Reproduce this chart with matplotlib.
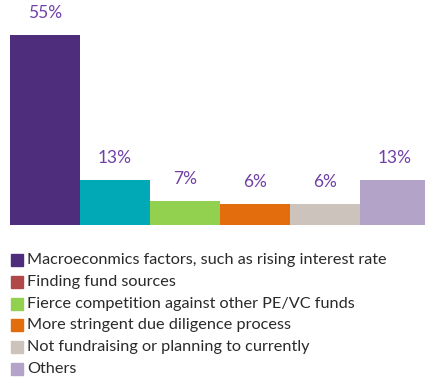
import matplotlib.pyplot as plt
from matplotlib.patches import Rectangle

categories = [
    "Macroeconmics factors, such as rising interest rate",
    "Finding fund sources",
    "Fierce competition against other PE/VC funds",
    "More stringent due diligence process",
    "Not fundraising or planning to currently",
    "Others",
]
values = [55, 13, 7, 6, 6, 13]
bar_colors = ["#4e2e7c", "#00a9b5", "#92d150", "#e36d0c", "#ccc4bc", "#b3a3c9"]
legend_colors = ["#4e2e7c", "#b0484a", "#92d150", "#e36d0c", "#ccc4bc", "#b3a3c9"]

plt.rcParams['font.family'] = ['Lato', 'DejaVu Sans']

W, H = 425, 377
fig = plt.figure(figsize=(W / 100, H / 100), dpi=100)
ax = fig.add_axes([10 / W, (H - 225) / H, (W - 10) / W, 225 / H])

x = list(range(len(values)))
ax.bar(x, values, width=1.0, color=bar_colors, align='edge')
for xi, v in zip(x, values):
    ax.text(xi + 0.5, v + 4.0, f"{v}%", ha='center', va='bottom',
            color="#7040a8", fontsize=12.5)

ax.set_xlim(0, 5.93)
ax.set_ylim(0, 65.1)
ax.axis('off')

# legend drawn by hand: small squares with labels underneath the bars
for i, (label, c) in enumerate(zip(categories, legend_colors)):
    yc = 260 + i * 21.8
    fig.patches.append(Rectangle((11 / W, (H - yc - 6) / H), 12 / W, 12 / H,
                                 transform=fig.transFigure, color=c))
    fig.text(27 / W, (H - yc) / H, label, va='center', ha='left',
             fontsize=11.7, color="#2a2a2a")

fig.savefig('out.png', dpi=100)
